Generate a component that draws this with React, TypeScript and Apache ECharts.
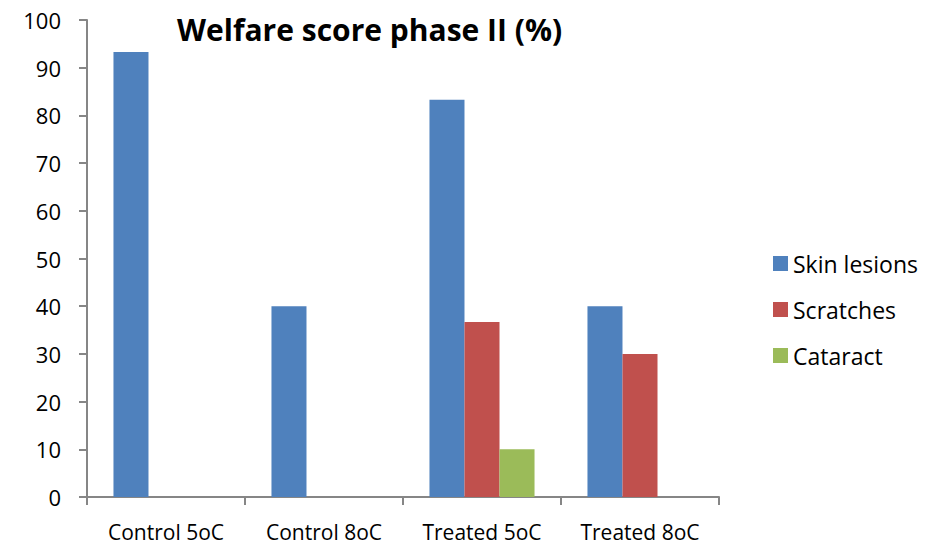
import React, { useEffect, useRef } from "react";
import * as echarts from "echarts";

const categories = ["Control 5oC", "Control 8oC", "Treated 5oC", "Treated 8oC"];
const skinLesions = [93.3, 40, 83.3, 40];
const scratches = [0, 0, 36.7, 30];
const cataract = [0, 0, 10, 0];
const seriesNames = ["Skin lesions", "Scratches", "Cataract"];
const colors = ["#4F81BD", "#C0504D", "#9BBB59"];
const title = "Welfare score phase II (%)";

const FONT = "'Open Sans', sans-serif";

export default function App() {
  const ref = useRef<HTMLDivElement>(null);
  useEffect(() => {
    document.body.style.margin = "0";
    const chart = echarts.init(ref.current!, null, { renderer: "svg" });
    const data = [skinLesions, scratches, cataract];
    chart.setOption({
      animation: false,
      title: {
        text: title,
        left: 172,
        top: 9,
        textStyle: { fontFamily: FONT, fontSize: 30, fontWeight: "bold", color: "#000" },
      },
      legend: {
        orient: "vertical",
        left: 768,
        top: 247,
        itemWidth: 15,
        itemHeight: 15,
        itemGap: 23,
        icon: "rect",
        textStyle: { fontFamily: FONT, fontSize: 23, color: "#000" },
        data: seriesNames,
      },
      grid: { left: 87, right: 221, top: 20, bottom: 48, containLabel: false },
      xAxis: {
        type: "category",
        data: categories,
        axisLine: { lineStyle: { color: "#868686", width: 2 } },
        axisTick: { show: true, length: 8, lineStyle: { color: "#868686", width: 2 } },
        axisLabel: { fontFamily: FONT, fontSize: 21, color: "#000", margin: 24 },
      },
      yAxis: {
        type: "value",
        min: 0,
        max: 100,
        interval: 10,
        splitLine: { show: false },
        axisLine: { show: true, lineStyle: { color: "#868686", width: 2 } },
        axisTick: { show: true, length: 8, lineStyle: { color: "#868686", width: 2 } },
        axisLabel: { fontFamily: FONT, fontSize: 22, color: "#000", margin: 26 },
      },
      series: seriesNames.map((name, i) => ({
        name,
        type: "bar",
        data: data[i],
        itemStyle: { color: colors[i] },
        barGap: "0%",
        barCategoryGap: "33.5%",
      })),
    });
    return () => chart.dispose();
  }, []);
  return <div ref={ref} style={{ width: 940, height: 545 }} />;
}
